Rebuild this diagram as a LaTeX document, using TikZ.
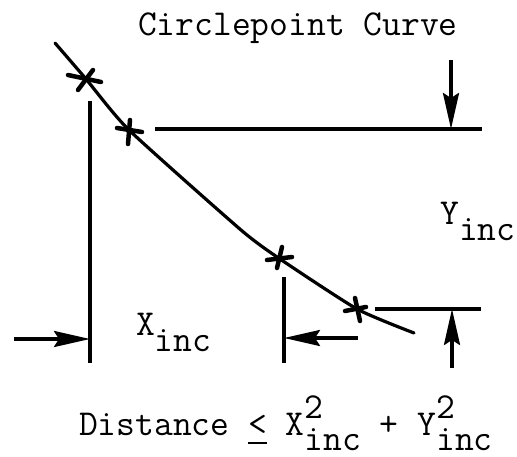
\documentclass[tikz,border=0pt]{standalone}
\usetikzlibrary{arrows.meta}
\newcommand{\lowsub}[1]{\raisebox{-16pt}{#1}}
\newcommand{\supsubx}[2]{\rlap{\raisebox{17pt}{#1}}\raisebox{-15pt}{#2}}
\newcommand{\ulless}{\rlap{\raisebox{-9pt}{\rule{19pt}{1.8pt}}}<}
\begin{document}
\begin{tikzpicture}[x=1pt,y=-1pt,
  lbl/.style={inner sep=0pt,anchor=base west,font=\ttfamily\fontsize{36.5}{37}\selectfont},
  ln/.style={line width=3.3pt},
  mk/.style={line width=4.5pt,line cap=round},
  dim/.style={line width=3.3pt,-{Stealth[length=36pt,width=16pt,inset=5pt]}}]
\useasboundingbox (0,0) rectangle (517,457);
% curve points
\coordinate (c0) at (55,43);
\coordinate (p1) at (86,79);
\coordinate (p2) at (129,130);
\coordinate (cm) at (241,230);
\coordinate (p3) at (280,259);
\coordinate (p4) at (357,309);
\coordinate (c5) at (414,333);
\draw[line width=3.2pt,line cap=round] plot[smooth,tension=0.35] coordinates {(c0) (p1) (p2) (cm) (p3) (p4) (c5)};
% markers
\draw[mk] (68,75) -- (101,82); \draw[mk] (78,90) -- (93,70);
\draw[mk] (117,128) -- (142,132); \draw[mk] (128,144) -- (130,120);
\draw[mk] (267,260) -- (292,257); \draw[mk] (277,268) -- (282,247);
\draw[mk] (345,311) -- (366,307); \draw[mk] (360,321) -- (355,298);
% extension lines
\coordinate (v1a) at (90,101); \coordinate (v1b) at (90,363);
\coordinate (v2a) at (284,277); \coordinate (v2b) at (284,363);
\coordinate (h1a) at (155,129); \coordinate (h1b) at (482,129);
\coordinate (h2a) at (375,309); \coordinate (h2b) at (481,309);
\draw[ln] (v1a) -- (v1b);
\draw[ln] (v2a) -- (v2b);
\draw[ln] (h1a) -- (h1b);
\draw[ln] (h2a) -- (h2b);
% dimension arrows
\coordinate (a1s) at (14,339); \coordinate (a1e) at (90,339);
\coordinate (a2s) at (358,338); \coordinate (a2e) at (284,338);
\coordinate (a3s) at (451,60); \coordinate (a3e) at (451,129);
\coordinate (a4s) at (452,368); \coordinate (a4e) at (452,309);
\draw[dim] (a1s) -- (a1e);
\draw[dim] (a2s) -- (a2e);
\draw[dim] (a3s) -- (a3e);
\draw[dim] (a4s) -- (a4e);
% labels
\node[lbl] (title) at (138,36) {Circlepoint Curve};
\node[lbl] (yinc) at (440,225) {Y\lowsub{inc}};
\node[lbl] (xinc) at (136,335) {X\lowsub{inc}};
\node[lbl] (dist) at (79,435) {Distance \ulless{} X\supsubx{2}{inc} + Y\supsubx{2}{inc}};
\end{tikzpicture}
\end{document}
